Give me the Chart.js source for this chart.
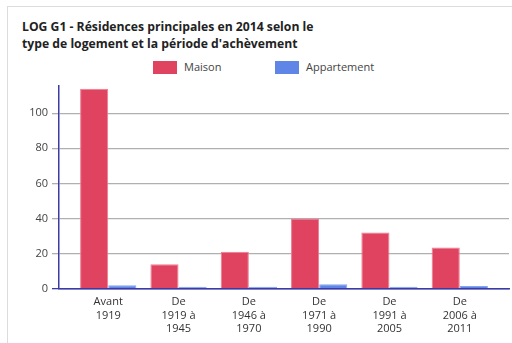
<!DOCTYPE html>
<html>
<head>
  <title>LOG G1</title>
  <script src="https://cdn.jsdelivr.net/npm/chart.js"></script>
  <style>
    body {
      margin: 0;
      padding: 0;
      background: #fff;
      font-family: 'Open Sans', Arial, sans-serif;
    }
    .frame {
      position: absolute;
      left: 7px;
      top: 6px;
      width: 520px;
      height: 350px;
      border-left: 1px solid #dcdcdc;
      border-top: 1px solid #dcdcdc;
    }
    .title {
      position: absolute;
      left: 22px;
      top: 19px;
      font-size: 12.2px;
      font-weight: bold;
      line-height: 16.5px;
      color: #222;
    }
    .legend-item {
      position: absolute;
      top: 59px;
      font-size: 11px;
      color: #444;
      line-height: 16px;
    }
    .legend-item span.box {
      position: absolute;
      left: 0;
      top: 2px;
      width: 24px;
      height: 13px;
    }
    .legend-item span.txt {
      position: absolute;
      left: 31px;
      white-space: nowrap;
    }
    #chart {
      position: absolute;
      left: 0;
      top: 0;
    }
  </style>
</head>
<body>
  <div class="frame"></div>
  <div class="title">LOG G1 - Résidences principales en 2014 selon le<br>type de logement et la période d'achèvement</div>
  <div class="legend-item" style="left:153px"><span class="box" style="background:#e0435f"></span><span class="txt">Maison</span></div>
  <div class="legend-item" style="left:275px"><span class="box" style="background:#5f86e6"></span><span class="txt">Appartement</span></div>
  <canvas id="chart" width="512" height="343"></canvas>

  <script>
    // periods of completion, one label line per array entry
    const periods = [
      ['Avant', '1919'],
      ['De', '1919 à', '1945'],
      ['De', '1946 à', '1970'],
      ['De', '1971 à', '1990'],
      ['De', '1991 à', '2005'],
      ['De', '2006 à', '2011']
    ];
    const maison = [114, 14, 21, 40, 32, 23.5];
    const appartement = [2, 0, 0, 2.5, 0, 1.5];
    const yTicks = [0, 20, 40, 60, 80, 100];

    const navy = '#3b3ba6';

    function toPoints(values) {
      return values.map((v, i) => ({ x: i, y: v }));
    }

    new Chart(document.getElementById('chart'), {
      type: 'bar',
      data: {
        datasets: [
          {
            label: 'Maison',
            data: toPoints(maison),
            backgroundColor: '#e0435f',
            borderColor: '#ee7a90',
            borderWidth: 1,
            categoryPercentage: 0.8,
            barPercentage: 1.0
          },
          {
            label: 'Appartement',
            data: toPoints(appartement),
            backgroundColor: '#5f86e6',
            borderColor: '#86a4ee',
            borderWidth: 1,
            minBarLength: 2,
            categoryPercentage: 0.8,
            barPercentage: 1.0
          }
        ]
      },
      options: {
        responsive: false,
        animation: false,
        layout: { padding: { top: 86, left: 22, right: 3, bottom: 0 } },
        plugins: {
          legend: { display: false },
          title: { display: false },
          tooltip: { enabled: false }
        },
        scales: {
          x: {
            type: 'linear',
            offset: false,
            min: -0.7,
            max: periods.length - 0.3,
            afterFit: s => { s.height = 54.3; },
            grid: { display: false, drawTicks: false },
            border: { display: true, color: navy, width: 1.5 },
            ticks: {
              stepSize: 1,
              includeBounds: false,
              autoSkip: false,
              maxRotation: 0,
              padding: 7,
              color: '#333',
              font: { family: "'Open Sans'", size: 11, lineHeight: 1.2 },
              callback: v => Number.isInteger(v) && periods[v] ? periods[v] : ''
            }
          },
          y: {
            min: 0,
            max: 115.5,
            afterFit: s => { s.width = 37; },
            afterBuildTicks: s => { s.ticks = yTicks.map(v => ({ value: v })); },
            grid: {
              color: c => c.tick && c.tick.value === 0 ? navy : '#b0b0b0',
              lineWidth: 1.3,
              tickLength: 7
            },
            border: { display: true, color: navy, width: 1.5 },
            ticks: {
              padding: 4,
              color: '#444',
              font: { family: "'Open Sans'", size: 11 }
            }
          }
        }
      }
    });
  </script>
</body>
</html>
